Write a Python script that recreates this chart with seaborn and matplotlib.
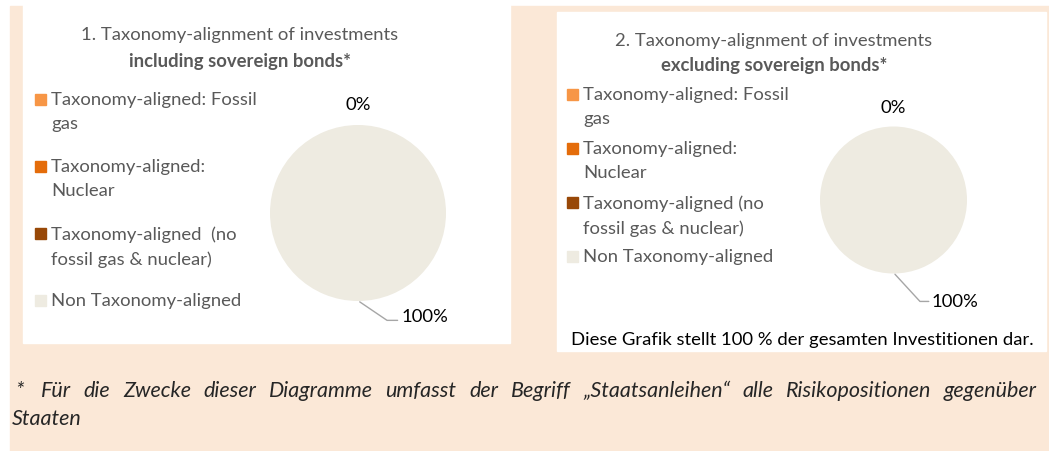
import matplotlib
matplotlib.use("Agg")
import matplotlib.pyplot as plt
import seaborn as sns
from matplotlib.patches import Rectangle

# =========================
# Dados
# =========================

categories = [
    "Taxonomy-aligned: Fossil\ngas",
    "Taxonomy-aligned:\nNuclear",
    "Taxonomy-aligned  (no\nfossil gas & nuclear)",
    "Non Taxonomy-aligned",
]
categories_2 = [
    "Taxonomy-aligned: Fossil\ngas",
    "Taxonomy-aligned:\nNuclear",
    "Taxonomy-aligned (no\nfossil gas & nuclear)",
    "Non Taxonomy-aligned",
]
values_incl = [0, 0, 0, 100]
values_excl = [0, 0, 0, 100]
title_1 = "1. Taxonomy-alignment of investments"
title_1b = "including sovereign bonds*"
title_2 = "2. Taxonomy-alignment of investments"
title_2b = "excluding sovereign bonds*"
note = "Diese Grafik stellt 100 % der gesamten Investitionen dar."
footnote_1 = "Für die Zwecke dieser Diagramme umfasst der Begriff „Staatsanleihen“ alle Risikopositionen gegenüber"
footnote_2 = "Staaten"

colors = sns.color_palette(["#F79646", "#E46C0A", "#984807", "#EEEBE1"])
peach = "#FBE8D7"
grey = "#595959"
FS = 13.3
FS_NOTE = 15.5

sns.set_theme(style="white")
plt.rcParams["font.family"] = ["Lato", "DejaVu Sans"]

W, H = 1049, 452
fig = plt.figure(figsize=(W / 100, H / 100), dpi=100)


def box(x0, y0, x1, y1, color):
    fig.patches.append(Rectangle((x0 / W, 1 - y1 / H), (x1 - x0) / W, (y1 - y0) / H,
                                 transform=fig.transFigure, color=color, zorder=-1))


def txt(x, y, s, **kw):
    return fig.text(x / W, 1 - y / H, s, **kw)


# fundo
box(10, 7, W, H, peach)
box(23, 0, 510, 344, "white")
box(557, 13, 1046, 352, "white")


def draw_panel(values, labels, cx, cy, r, leg_x, leg_y, leg_step, t1, t2, tx, ty, t_gap, lbl_up, lbl_elbow, lbl_dy):
    ax = fig.add_axes([(cx - r) / W, 1 - (cy + r) / H, 2 * r / W, 2 * r / H])
    ax.pie(values, colors=colors, startangle=90, counterclock=False,
           wedgeprops=dict(linewidth=0))
    ax.set_xlim(-1, 1)
    ax.set_ylim(-1, 1)
    ax.axis("off")

    # rótulos
    ax.text(0, lbl_up, f"{values[0]}%", ha="center", va="center", fontsize=FS, color="black", clip_on=False)
    ex, ey = lbl_elbow
    ax.plot([0.02, ex, ex + 0.12], [-1.01, ey, ey], color="#A6A6A6", lw=1, clip_on=False)
    ax.text(ex + 0.16, ey + lbl_dy, f"{values[-1]}%", ha="left", va="center", fontsize=FS,
            color="black", clip_on=False)

    # títulos
    txt(tx, ty, t1, ha="center", va="center", fontsize=FS, color=grey)
    txt(tx, ty + t_gap, t2, ha="center", va="center", fontsize=FS, color=grey, fontweight="bold")

    # legenda
    for i, lab in enumerate(labels):
        y = leg_y + i * leg_step
        box(leg_x, y - 5.5, leg_x + 11, y + 5.5, colors[i])
        txt(leg_x + 16, y - 8, lab, ha="left", va="top", fontsize=FS, color=grey,
            linespacing=1.62)


draw_panel(values_incl, categories, 358, 214, 88, 35, 100, 67,
           title_1, title_1b, 240, 35, 26, 1.24, (0.33, -1.22), 0.05)
draw_panel(values_excl, categories_2, 893.5, 201, 73.5, 567, 95, 54,
           title_2, title_2b, 774, 41, 24, 1.27, (0.36, -1.38), 0.0)

txt(802, 340, note, ha="center", va="center", fontsize=FS, color="black")

# nota de rodapé justificada
foot_kw = dict(va="center", fontsize=FS_NOTE, color="#262626", style="italic")
txt(15, 391, "*", ha="left", **foot_kw)
renderer = fig.canvas.get_renderer()
words = footnote_1.split(" ")
x_start, x_end = 41, 1037
widths = []
for w in words:
    t = txt(0, 0, w, ha="left", **foot_kw)
    widths.append(t.get_window_extent(renderer).width)
    t.remove()
gap = (x_end - x_start - sum(widths)) / (len(words) - 1)
x = x_start
for w, wd in zip(words, widths):
    txt(x, 391, w, ha="left", **foot_kw)
    x += wd + gap
txt(12, 419, footnote_2, ha="left", **foot_kw)

plt.savefig("out.png", dpi=100, facecolor="white")
